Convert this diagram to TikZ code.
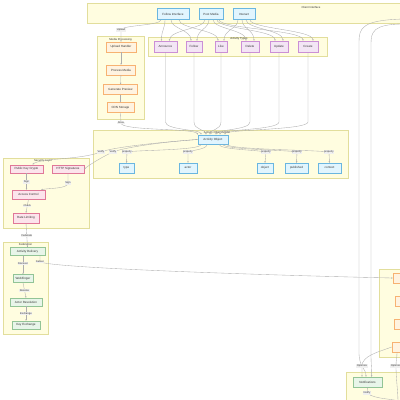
\documentclass[tikz,border=0pt]{standalone}
\usepackage{fontspec}
\setmainfont{Liberation Sans}
\usetikzlibrary{arrows.meta,calc}
\definecolor{clfill}{HTML}{FFFDE0}
\definecolor{cldraw}{HTML}{E2DE9C}
\definecolor{bfill}{HTML}{E1F5FE}
\definecolor{bdraw}{HTML}{6AB6E0}
\definecolor{pfill}{HTML}{F3E5F5}
\definecolor{pdraw}{HTML}{CB8FD6}
\definecolor{ofill}{HTML}{FFF3E0}
\definecolor{odraw}{HTML}{F7B272}
\definecolor{kfill}{HTML}{FCE4EC}
\definecolor{kdraw}{HTML}{E07898}
\definecolor{gfill}{HTML}{E8F5E9}
\definecolor{gdraw}{HTML}{92C496}
\definecolor{edgec}{HTML}{ADADAD}
\definecolor{lblfill}{HTML}{F0F0F0}
\definecolor{textc}{HTML}{333333}
\begin{document}
\begin{tikzpicture}[x=1pt,y=-1pt,
  font=\fontsize{3}{3.6}\selectfont,
  cluster/.style={draw=cldraw, fill=clfill, line width=0.4pt},
  ctitle/.style={font=\fontsize{2.8}{3.2}\selectfont, text=textc, inner sep=0},
  box/.style={rectangle, line width=0.45pt, inner sep=0, minimum height=10pt, text=textc},
  bnode/.style={box, draw=bdraw, fill=bfill},
  pnode/.style={box, draw=pdraw, fill=pfill},
  onode/.style={box, draw=odraw, fill=ofill},
  knode/.style={box, draw=kdraw, fill=kfill},
  gnode/.style={box, draw=gdraw, fill=gfill},
  edge/.style={draw=edgec, line width=0.35pt, -{Stealth[length=1.6pt,width=1.4pt]}},
  lbl/.style={fill=lblfill, inner sep=0.4pt, font=\fontsize{2.6}{3}\selectfont, text=textc}
]
\clip (0,0) rectangle (400,400);
\fill[white] (0,0) rectangle (400,400);

% ---------- clusters ----------
\draw[cluster] (87,3) rectangle (415,23);
\node[ctitle] (tci) at (311,7) {Client Interface};
\draw[cluster] (97,36) rectangle (144,119);
\node[ctitle] (tmp) at (120.5,39.5) {Media Processing};
\draw[cluster] (148,37) rectangle (327,56);
\node[ctitle] (tat) at (239,38.5) {Activity Types};
\draw[cluster] (93,130) rectangle (348,178);
\node[ctitle] (tao) at (217,133) {Activity Object Model};
\draw[cluster] (3,158) rectangle (89,228);
\node[ctitle] (tsl) at (43,161) {Security Layer};
\draw[cluster] (3,242) rectangle (48,334);
\node[ctitle] (tfd) at (25.5,244.5) {Federation};
\draw[cluster] (379,269) rectangle (420,357);
\draw[cluster] (346,372) rectangle (420,410);

% ---------- nodes ----------
\node[bnode, minimum width=32pt, minimum height=11pt] (fi) at (173,14) {Follow Interface};
\node[bnode, minimum width=24pt, minimum height=11pt] (pm) at (211,14) {Post Media};
\node[bnode, minimum width=22pt, minimum height=11pt] (in) at (244,14) {Interact};

\node[onode, minimum width=30pt] (uh) at (121,47) {Upload Handler};
\node[onode, minimum width=29pt] (pmd) at (121,70) {Process Media};
\node[onode, minimum width=34pt] (gp) at (120.5,89.5) {Generate Preview};
\node[onode, minimum width=27pt] (cdn) at (120.5,107.5) {CDN Storage};

\node[pnode, minimum width=23pt, minimum height=11pt] (ann) at (165.5,46.5) {Announce};
\node[pnode, minimum width=16pt, minimum height=11pt] (fol) at (194,46.5) {Follow};
\node[pnode, minimum width=12pt, minimum height=11pt] (lik) at (221,46.5) {Like};
\node[pnode, minimum width=18pt, minimum height=11pt] (del) at (250,46.5) {Delete};
\node[pnode, minimum width=18pt, minimum height=11pt] (upd) at (279,46.5) {Update};
\node[pnode, minimum width=20pt, minimum height=11pt] (cre) at (308,46.5) {Create};

\node[bnode, minimum width=30pt, minimum height=9.5pt] (ao) at (213,139.5) {Activity Object};
\node[bnode, minimum width=15pt] (ty) at (126.5,168) {type};
\node[bnode, minimum width=18pt] (ac1) at (188,168) {actor};
\node[bnode, minimum width=16pt] (ob) at (265,168) {object};
\node[bnode, minimum width=23pt] (pu) at (296.5,168) {published};
\node[bnode, minimum width=23pt] (cx) at (329.5,168) {context};

\node[knode, minimum width=33pt, minimum height=8.5pt] (pkc) at (26.5,169) {Public Key Crypto};
\node[knode, minimum width=32pt, minimum height=8.5pt] (hs) at (68,169) {HTTP Signatures};
\node[knode, minimum width=33pt, minimum height=9pt] (ac) at (28.5,194.5) {Access Control};
\node[knode, minimum width=26pt, minimum height=10pt] (rl) at (26,218) {Rate Limiting};

\node[gnode, minimum width=35pt, minimum height=8pt] (ad) at (27.5,251.5) {Activity Delivery};
\node[gnode, minimum width=20pt, minimum height=8pt] (wf) at (23,278.5) {WebFinger};
\node[gnode, minimum width=32pt, minimum height=8pt] (ar) at (26,302) {Actor Resolution};
\node[gnode, minimum width=28pt, minimum height=8pt] (ke) at (26,325) {Key Exchange};

\node[onode, minimum width=34pt] (r1) at (410,278) {Cache Layer};
\node[onode, minimum width=34pt] (r2) at (412,301.5) {Search Index};
\node[onode, minimum width=34pt] (r3) at (411,324.5) {Queue};
\node[onode, minimum width=34pt] (r4) at (409,347) {Database};

\node[gnode, minimum width=29pt, minimum height=10pt] (nt) at (367.5,382) {Notifications};

\coordinate (offA) at (404,19);
\coordinate (offB) at (404,24);
\coordinate (offC) at (398,404);
\coordinate (offD) at (410,404);

% ---------- edges ----------
\foreach \s/\sx/\t/\dx in {fi/-8/ann/-4, fi/-2/fol/-3, fi/6/lik/-3, pm/-6/ann/4, pm/-2/fol/3, pm/2/del/-4, pm/6/upd/-4, pm/8/cre/-5, in/-6/lik/3, in/-2/del/4, in/2/upd/4, in/6/cre/5}
  \draw[edge] ([xshift=\sx pt]\s.south) .. controls +(0,9) and +(0,-11) .. ([xshift=\dx pt]\t.north);

\draw[edge] ([xshift=-12pt]fi.south) .. controls +(0,6) and +(0,-5) .. (121,30) node[lbl]{Upload} -- (uh.north);
\draw[edge] (uh) -- (pmd);
\draw[edge] (pmd) -- (gp);
\draw[edge] (gp) -- (cdn);
\draw[edge] (cdn.south) -- (121,123) node[lbl]{Store} .. controls (121,131) and (195,128) .. (ao.north west);

\foreach \n/\dx in {ann/-12, fol/-7, lik/-3, del/3, upd/7, cre/12}
  \draw[edge] (\n.south) -- (\n.south |- 0,122) .. controls +(0,8) and +(0,-5) .. ([xshift=\dx pt]ao.north);

\draw[edge] ([xshift=-12pt]ao.south) .. controls +(0,6) and +(8,-2) .. (127,152) node[lbl]{property} -- (ty.north);
\draw[edge] ([xshift=-6pt]ao.south) .. controls +(0,5) and +(4,-2) .. (188,152) node[lbl]{property} -- (ac1.north);
\draw[edge] ([xshift=6pt]ao.south) .. controls +(0,5) and +(-8,-2) .. (266,152) node[lbl]{property} -- (ob.north);
\draw[edge] ([xshift=10pt]ao.south) .. controls +(0,5) and +(-10,-2) .. (297,152) node[lbl]{property} -- (pu.north);
\draw[edge] ([xshift=14pt]ao.south) .. controls +(0,5) and +(-12,-2) .. (329,152) node[lbl]{property} -- (cx.north);

\draw[edge] (ao.west) .. controls (160,142) and (122,148) .. (113,152) node[lbl]{Verify} .. controls (104,156) and (92,163) .. (hs.east);
\draw[edge] (ao.west) .. controls (150,143) and (110,148) .. (101,152) node[lbl]{Verify} .. controls (80,160) and (40,158) .. ([xshift=6pt]pkc.north);

\draw[edge] (pkc.south) -- (26.5,182) node[lbl]{Sign} -- (ac.north -| pkc.south);
\draw[edge] (hs.south) -- (68,183) node[lbl]{Sign} .. controls (68,189) and (48,188) .. ([xshift=-4pt]ac.north east);
\draw[edge] (ac.south) -- node[lbl]{Check} (rl.north);
\draw[edge] (rl.south) -- node[lbl]{Federate} (ad.north);

\draw[edge] ([xshift=-4.5pt]ad.south) -- node[lbl, pos=0.4]{Discover} (wf.north);
\draw[edge] (wf.south) -- node[lbl]{Resolve} (ar.north);
\draw[edge] (ar.south) -- node[lbl]{Exchange} (ke.north);
\draw[edge] ([xshift=12.5pt]ad.south) -- (40,262) node[lbl]{Deliver} .. controls (60,269) and (300,276) .. (r1.west);

\draw[edge] (offA) .. controls (362,20) and (359,28) .. (359,42) -- (359,352) .. controls (359,368) and (366,368) .. ([xshift=-1.5pt]nt.north);
\draw[edge] (offB) .. controls (373,24) and (371,32) .. (371,44) -- (371,352) .. controls (371,368) and (372,368) .. ([xshift=4pt]nt.north);
\draw[edge] (r4.west) .. controls (378,352) and (362,356) .. (362,366) node[lbl]{Optimize} -- ([xshift=-5.5pt]nt.north);
\draw[edge] ([xshift=-12pt]r4.south) .. controls +(0,6) and +(0,-6) .. (396,366) node[lbl]{Optimize} .. controls (396,380) and (398,390) .. (offC);
\draw[edge] (nt.south) -- (367,393) node[lbl]{Notify} .. controls (375,400) and (395,398) .. (offD);
\end{tikzpicture}
\end{document}
